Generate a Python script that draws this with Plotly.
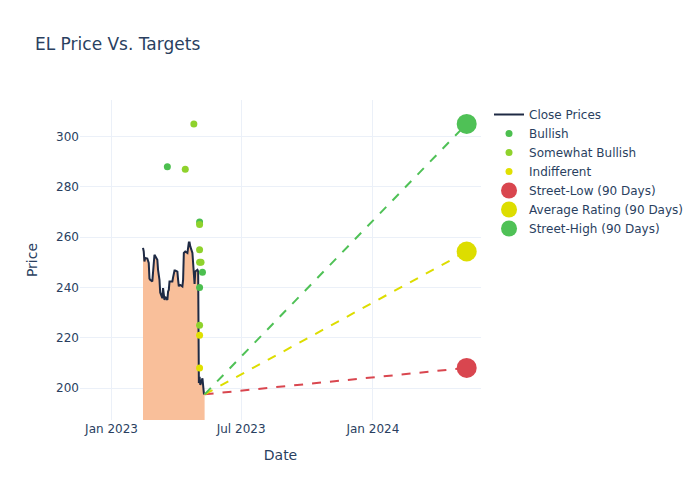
import pandas as pd
import plotly.graph_objects as go

# Close prices (business days from 2023-02-14)
close_start = "2023-02-14"
close_prices = [
    255.7, 254.3, 250.3, 251.7, 251.5, 250.3, 249.7, 243.5, 243.0, 242.4, 246.0,
    249.7, 253.0, 252.5, 251.0, 247.0, 245.0, 243.0, 238.0, 235.7, 239.7, 237.0,
    235.0, 236.3, 235.0, 238.4, 239.0, 242.4, 242.4, 242.4, 244.0, 246.3, 246.7, 246.7,
    246.3, 243.0, 240.4, 241.0, 241.0, 240.4, 243.0, 253.7, 254.3, 254.3, 253.7,
    256.3, 257.9, 257.9, 256.3, 253.7, 250.0, 248.3, 241.4, 246.3,
    247.0, 246.3, 202.0, 204.5, 201.2, 203.9, 200.5, 197.9, 197.5,
]
close_dates = pd.bdate_range(close_start, periods=len(close_prices))

# Analyst ratings
bullish_dates = ["2023-03-20", "2023-05-04", "2023-05-08", "2023-05-04"]
bullish_targets = [288, 266, 246, 240]

smb_dates = ["2023-04-26", "2023-04-14", "2023-05-04", "2023-05-04", "2023-05-04", "2023-05-06", "2023-05-04"]
smb_targets = [305, 287, 265, 255, 250, 250, 225]

indiff_dates = ["2023-05-04", "2023-05-04"]
indiff_targets = [221, 208]

# 90-day street targets
target_date = "2024-05-11"
street_low = 208
street_avg = 254.3
street_high = 305

last_date = close_dates[-1]
last_price = close_prices[-1]

fig = go.Figure()

fig.add_trace(go.Scatter(
    x=close_dates, y=close_prices, mode="lines", fill="tozeroy",
    fillcolor="rgb(249,191,154)", line=dict(color="rgba(0,0,0,0)", width=0),
    showlegend=False, hoverinfo="skip"))

fig.add_trace(go.Scatter(
    x=close_dates, y=close_prices, mode="lines", name="Close Prices",
    line=dict(color="#1f2a44", width=2)))

fig.add_trace(go.Scatter(
    x=bullish_dates, y=bullish_targets, mode="markers", name="Bullish",
    marker=dict(color="#4cbf4f", size=7)))
fig.add_trace(go.Scatter(
    x=smb_dates, y=smb_targets, mode="markers", name="Somewhat Bullish",
    marker=dict(color="#8fd22c", size=7)))
fig.add_trace(go.Scatter(
    x=indiff_dates, y=indiff_targets, mode="markers", name="Indifferent",
    marker=dict(color="#e0e000", size=7)))

for val, col in [(street_low, "#d9464f"), (street_avg, "#dddd00"), (street_high, "#4fc156")]:
    fig.add_trace(go.Scatter(
        x=[last_date, target_date], y=[last_price, val], mode="lines",
        line=dict(color=col, width=2, dash="dash"), showlegend=False, hoverinfo="skip"))

fig.add_trace(go.Scatter(
    x=[target_date], y=[street_low], mode="markers", name="Street-Low (90 Days)",
    marker=dict(color="#d9464f", size=20)))
fig.add_trace(go.Scatter(
    x=[target_date], y=[street_avg], mode="markers", name="Average Rating (90 Days)",
    marker=dict(color="#dddd00", size=20)))
fig.add_trace(go.Scatter(
    x=[target_date], y=[street_high], mode="markers", name="Street-High (90 Days)",
    marker=dict(color="#4fc156", size=20)))

fig.update_layout(
    template="plotly_white",
    width=700, height=500,
    font=dict(family="DejaVu Sans"),
    title=dict(text="EL Price Vs. Targets"),
    xaxis=dict(title="Date", range=["2022-11-18", "2024-05-31"], dtick="M6",
               tick0="2023-01-01", tickformat="%b %Y"),
    yaxis=dict(title="Price", range=[187.3, 314.5]),
)

fig.write_html("out.html", config={"displayModeBar": False},
               post_script="document.body.style.margin='0px';")
